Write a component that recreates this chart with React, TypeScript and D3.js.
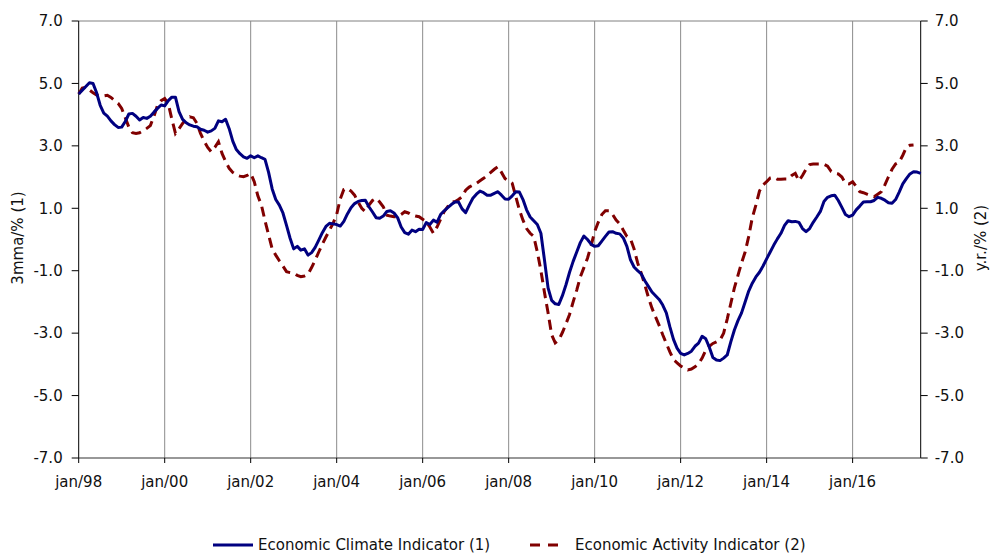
import React, { useEffect } from "react";
import * as d3 from "d3";

const xTickLabels = ["jan/98", "jan/00", "jan/02", "jan/04", "jan/06", "jan/08", "jan/10", "jan/12", "jan/14", "jan/16"];
const yTicks = [7, 5, 3, 1, -1, -3, -5, -7];
const seriesNames = ["Economic Climate Indicator (1)", "Economic Activity Indicator (2)"];

// Monthly, Jan 1998 onwards
const climate = [
  4.66, 4.78, 4.9, 5.02, 5.0, 4.7, 4.3, 4.05, 3.95, 3.8, 3.68, 3.59,
  3.6, 3.78, 4.02, 4.04, 3.95, 3.83, 3.91, 3.88, 3.95, 4.08, 4.2, 4.31,
  4.28, 4.45, 4.56, 4.56, 4.1, 3.85, 3.74, 3.67, 3.63, 3.61, 3.53, 3.5,
  3.44, 3.48, 3.56, 3.8, 3.77, 3.85, 3.55, 3.15, 2.88, 2.75, 2.65, 2.6,
  2.68, 2.62, 2.68, 2.62, 2.57, 2.15, 1.62, 1.28, 1.1, 0.85, 0.45, 0.04,
  -0.3, -0.22, -0.34, -0.3, -0.5, -0.42, -0.25, -0.02, 0.22, 0.42, 0.52, 0.5,
  0.48, 0.43, 0.58, 0.82, 1.02, 1.15, 1.22, 1.25, 1.26, 1.05, 0.88, 0.7,
  0.68, 0.75, 0.9, 0.92, 0.85, 0.7, 0.4, 0.22, 0.17, 0.3, 0.25, 0.33,
  0.32, 0.54, 0.48, 0.62, 0.55, 0.8, 0.92, 1.02, 1.12, 1.2, 1.2, 0.98,
  0.86, 1.1, 1.32, 1.45, 1.55, 1.5, 1.42, 1.42, 1.48, 1.53, 1.42, 1.3,
  1.29, 1.4, 1.53, 1.52, 1.28, 0.95, 0.72, 0.6, 0.48, 0.2, -0.66, -1.55,
  -1.95, -2.06, -2.08, -1.8, -1.45, -1.05, -0.7, -0.4, -0.1, 0.11, 0.0, -0.15,
  -0.22, -0.2, -0.05, 0.1, 0.24, 0.25, 0.2, 0.18, 0.05, -0.22, -0.65, -0.88,
  -1.0, -1.1, -1.32, -1.5, -1.68, -1.8, -1.92, -2.1, -2.35, -2.8, -3.2, -3.48,
  -3.65, -3.7, -3.65, -3.58, -3.42, -3.32, -3.1, -3.18, -3.45, -3.78, -3.86, -3.88,
  -3.8, -3.7, -3.28, -2.9, -2.6, -2.35, -2.0, -1.65, -1.4, -1.2, -1.05, -0.85,
  -0.62, -0.4, -0.18, 0.02, 0.2, 0.45, 0.6, 0.57, 0.58, 0.55, 0.35, 0.25,
  0.35, 0.55, 0.72, 0.9, 1.22, 1.35, 1.4, 1.42, 1.25, 1.03, 0.8, 0.73,
  0.78, 0.95, 1.07, 1.2, 1.21, 1.21, 1.25, 1.35, 1.32, 1.26, 1.18, 1.16,
  1.28, 1.52, 1.78, 1.95, 2.1, 2.17, 2.16, 2.12,
];

const activity = [
  4.66, 4.85, 4.88, 4.79, 4.7, 4.63, 4.62, 4.6, 4.62, 4.55, 4.45, 4.36,
  4.2, 3.9, 3.6, 3.42, 3.4, 3.42, 3.48, 3.56, 3.65, 3.95, 4.3, 4.45,
  4.52, 4.35, 3.85, 3.4, 3.55, 3.72, 3.85, 3.93, 3.9, 3.72, 3.4, 3.15,
  2.95, 2.81, 2.95, 3.13, 2.76, 2.5, 2.28, 2.15, 2.07, 2.03, 2.01, 2.05,
  2.12, 1.85, 1.4, 1.1, 0.6, 0.15, -0.3, -0.5, -0.68, -0.85, -1.03, -1.06,
  -1.08, -1.15, -1.19, -1.17, -1.11, -0.9, -0.66, -0.4, -0.15, 0.08, 0.3, 0.52,
  0.8, 1.3, 1.6, 1.64, 1.55, 1.42, 1.2, 1.0, 0.89, 1.1, 1.25, 1.32,
  1.2, 1.05, 0.78, 0.75, 0.73, 0.73, 0.8, 0.89, 0.85, 0.78, 0.75, 0.73,
  0.65, 0.57, 0.4, 0.2, 0.4, 0.65, 0.89, 1.05, 1.21, 1.21, 1.28, 1.37,
  1.58, 1.68, 1.74, 1.8, 1.88, 1.96, 2.05, 2.15, 2.25, 2.33, 2.15, 1.95,
  1.88, 1.8, 1.37, 0.95, 0.62, 0.35, 0.2, 0.1, -0.4, -1.0, -1.7, -2.35,
  -3.05, -3.31, -3.22, -2.98, -2.7, -2.4, -2.0, -1.62, -1.2, -0.9, -0.6, -0.2,
  0.25, 0.55, 0.8, 0.92, 0.92, 0.8, 0.62, 0.5, 0.3, 0.1, 0.02, -0.3,
  -0.75, -1.08, -1.45, -1.85, -2.2, -2.48, -2.75, -3.05, -3.33, -3.6, -3.85, -3.95,
  -4.05, -4.12, -4.18, -4.15, -4.08, -3.98, -3.8, -3.55, -3.42, -3.33, -3.28, -3.22,
  -3.0, -2.55, -2.05, -1.55, -1.15, -0.75, -0.4, 0.1, 0.7, 1.1, 1.55, 1.75,
  1.85, 1.97, 1.99, 1.93, 1.93, 1.94, 1.94, 2.05, 2.12, 1.88, 2.05, 2.25,
  2.4, 2.42, 2.42, 2.42, 2.41, 2.35, 2.18, 2.12, 2.1, 2.0, 1.8, 1.78,
  1.85, 1.7, 1.53, 1.5, 1.45, 1.4, 1.37, 1.45, 1.53, 1.75, 2.01, 2.25,
  2.42, 2.48, 2.7, 2.95, 3.02, 3.03,
];

const FONT = "'DejaVu Sans', Verdana, sans-serif";
const BLUE = "#000080";
const RED = "#800000";

export default function App() {
  useEffect(() => {
    document.body.style.margin = "0";
  }, []);

  const W = 992;
  const H = 555;
  const left = 78.7;
  const right = 920.7;
  const top = 21;
  const bottom = 458;

  const x = d3.scaleLinear().domain([0, 235]).range([left, right]);
  const y = d3.scaleLinear().domain([-7, 7]).range([bottom, top]);
  const line = d3
    .line<number>()
    .x((_, i) => x(i))
    .y((d) => y(d));

  const xTickIdx = xTickLabels.map((_, i) => i * 24);
  const fmt = (v: number) => v.toFixed(1);

  return (
    <svg width={W} height={H} style={{ display: "block", background: "#fff" }} fontFamily={FONT}>
      {/* top border */}
      <line x1={left} x2={right} y1={top} y2={top} stroke="#808080" strokeWidth={1} />
      {/* gridlines */}
      {xTickIdx.slice(1).map((m) => (
        <line key={"g" + m} x1={x(m)} x2={x(m)} y1={top} y2={bottom} stroke="#8c8c8c" strokeWidth={1} />
      ))}
      {/* axes */}
      <line x1={left} x2={left} y1={top} y2={bottom} stroke="#000" strokeWidth={1} />
      <line x1={right} x2={right} y1={top} y2={bottom} stroke="#000" strokeWidth={1} />
      <line x1={left} x2={right} y1={bottom} y2={bottom} stroke="#333" strokeWidth={1.2} />
      {/* y ticks */}
      {yTicks.map((t) => (
        <g key={"yt" + t}>
          <line x1={left - 7} x2={left} y1={y(t)} y2={y(t)} stroke="#000" />
          <text x={left - 16} y={y(t)} dy="0.35em" textAnchor="end" fontSize={15} fill="#111">
            {fmt(t)}
          </text>
          <line x1={right} x2={right + 7} y1={y(t)} y2={y(t)} stroke="#000" />
          <text x={right + 14} y={y(t)} dy="0.35em" textAnchor="start" fontSize={15} fill="#111">
            {fmt(t)}
          </text>
        </g>
      ))}
      {/* x ticks */}
      {xTickIdx.map((m, i) => (
        <g key={"xt" + m}>
          <line x1={x(m)} x2={x(m)} y1={bottom} y2={bottom + 5} stroke="#000" />
          <text x={x(m)} y={487} textAnchor="middle" fontSize={15} fill="#111">
            {xTickLabels[i]}
          </text>
        </g>
      ))}
      {/* axis titles */}
      <text transform={`translate(23,238) rotate(-90)`} textAnchor="middle" fontSize={15} fill="#111">
        3mma/% (1)
      </text>
      <text transform={`translate(986,238) rotate(-90)`} textAnchor="middle" fontSize={15} fill="#111">
        y.r./% (2)
      </text>
      {/* series */}
      <path d={line(activity) || ""} fill="none" stroke={RED} strokeWidth={3} strokeDasharray="10,6" />
      <path d={line(climate) || ""} fill="none" stroke={BLUE} strokeWidth={3} strokeLinejoin="round" />
      {/* legend */}
      <line x1={213} x2={253} y1={545} y2={545} stroke={BLUE} strokeWidth={3} />
      <text x={258} y={545} dy="0.35em" fontSize={15} fill="#111">
        {seriesNames[0]}
      </text>
      <line x1={530} x2={558} y1={545} y2={545} stroke={RED} strokeWidth={3} strokeDasharray="10,8" />
      <text x={575} y={545} dy="0.35em" fontSize={15} fill="#111">
        {seriesNames[1]}
      </text>
    </svg>
  );
}
